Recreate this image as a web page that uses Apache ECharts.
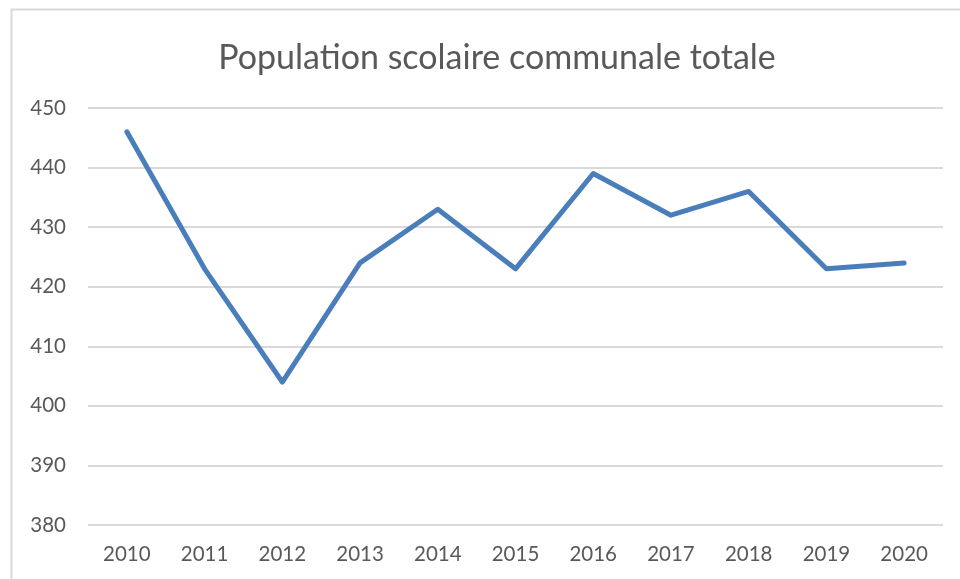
<!DOCTYPE html>
<html>
<head>
<meta charset="utf-8">
<script src="https://cdn.jsdelivr.net/npm/echarts@6/dist/echarts.min.js"></script>
<style>
  html, body { margin: 0; padding: 0; background: #fff; }
  #chart { width: 960px; height: 579px; }
</style>
</head>
<body>
<div id="chart"></div>
<script>
// School population per year
const years = ['2010', '2011', '2012', '2013', '2014', '2015', '2016', '2017', '2018', '2019', '2020'];
const population = [446, 423, 404, 424, 433, 423, 439, 432, 436, 423, 424];
const titleText = 'Population scolaire communale totale';

const chart = echarts.init(document.getElementById('chart'), null, { renderer: 'canvas' });
const font = 'Lato, "Open Sans", sans-serif';

chart.setOption({
  animation: false,
  backgroundColor: '#ffffff',
  graphic: [{
    type: 'rect',
    shape: { x: 11.5, y: 9.5, width: 980, height: 600 },
    style: { fill: 'none', stroke: '#d9d9d9', lineWidth: 2 },
    silent: true
  }],
  title: {
    text: titleText,
    left: 492,
    textAlign: 'center',
    top: 36,
    textStyle: { fontFamily: font, fontSize: 34, fontWeight: 'normal', color: '#595959' }
  },
  grid: { left: 88, right: 17, top: 108, bottom: 54, containLabel: false },
  xAxis: {
    type: 'category',
    data: years,
    boundaryGap: true,
    axisLine: { show: false },
    axisTick: { show: false },
    axisLabel: { fontFamily: font, fontSize: 20.5, color: '#595959', margin: 19 }
  },
  yAxis: {
    type: 'value',
    min: 380,
    max: 450,
    interval: 10,
    axisLine: { show: false },
    axisTick: { show: false },
    axisLabel: { fontFamily: font, fontSize: 20.5, color: '#595959', margin: 22 },
    splitLine: { lineStyle: { color: '#d9d9d9', width: 2 } }
  },
  series: [{
    type: 'line',
    data: population,
    showSymbol: false,
    lineStyle: { color: '#4a7ebb', width: 5, cap: 'round', join: 'round' }
  }]
});
</script>
</body>
</html>
